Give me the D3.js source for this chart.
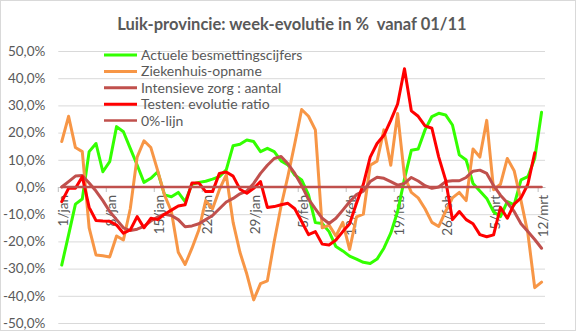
<!DOCTYPE html>
<html>
<head>
<meta charset="utf-8">
<script src="https://cdn.jsdelivr.net/npm/d3@7"></script>
<style>
  html, body { margin: 0; padding: 0; background: #fff; }
  svg text { font-family: Lato, "Open Sans", sans-serif; fill: #595959; }
</style>
</head>
<body>
<svg id="chart" width="584" height="332"></svg>
<script>
// Daily categories from 1 January to 12 March
const dates = [
  "1/jan","2/jan","3/jan","4/jan","5/jan","6/jan","7/jan","8/jan","9/jan","10/jan",
  "11/jan","12/jan","13/jan","14/jan","15/jan","16/jan","17/jan","18/jan","19/jan","20/jan",
  "21/jan","22/jan","23/jan","24/jan","25/jan","26/jan","27/jan","28/jan","29/jan","30/jan","31/jan",
  "1/feb","2/feb","3/feb","4/feb","5/feb","6/feb","7/feb","8/feb","9/feb","10/feb",
  "11/feb","12/feb","13/feb","14/feb","15/feb","16/feb","17/feb","18/feb","19/feb","20/feb",
  "21/feb","22/feb","23/feb","24/feb","25/feb","26/feb","27/feb","28/feb",
  "1/mrt","2/mrt","3/mrt","4/mrt","5/mrt","6/mrt","7/mrt","8/mrt","9/mrt","10/mrt","11/mrt","12/mrt"
];

// Axis labels shown every seven days
const tickLabels = ["1/jan","8/jan","15/jan","22/jan","29/jan","5/feb","12/feb","19/feb","26/feb","5/mrt","12/mrt"];
const yTicks = [50, 40, 30, 20, 10, 0, -10, -20, -30, -40, -50];

const seriesNames = [
  "Actuele besmettingscijfers",
  "Ziekenhuis-opname",
  "Intensieve zorg : aantal",
  "Testen: evolutie ratio",
  "0%-lijn"
];

// Week-on-week evolution in %
const besmettingen = [
  -28.7, -17.6, -6.3, -4.4, 13.0, 16.0, 5.6, 9.3, 22.2, 20.3,
  14.2, 8.1, 1.7, 3.2, 5.6, -2.9, -3.6, -2.0, -5.4, 1.0,
  1.7, 2.1, 2.9, 3.8, 6.3, 15.2, 15.7, 17.3, 16.7, 13.0,
  14.2, 13.0, 9.6, 8.1, 4.4, 2.6, -2.9, -13.1, -13.4, -16.4,
  -21.9, -23.5, -25.4, -26.5, -27.7, -28.1, -26.5, -22.5, -17.0, -9.0,
  3.0, 13.5, 14.0, 21.0, 25.9, 27.1, 26.5, 22.8, 11.8, 9.9,
  1.3, -1.5, -4.2, -9.1, -10.9, -5.4, -6.6, 2.6, 3.8, 10.5,
  27.5
];

const ziekenhuis = [
  16.7, 26.0, 14.5, 13.0, -15.0, -25.0, -25.3, -25.7, -18.0, -19.5,
  -8.0, 11.0, 17.0, 14.5, 6.0, -3.0, -9.0, -24.0, -28.5, -22.5,
  -15.8, -5.0, -8.0, -1.0, 4.5, -13.0, -24.0, -32.0, -41.5, -35.5,
  -34.5, -20.0, -7.0, 4.0, 16.0, 28.5, 26.0, 21.0, -15.0, -14.0,
  -18.0, -13.0, -23.0, -11.0, -10.0, 8.0, 9.5, 21.0, 8.0, 27.0,
  4.0, -2.0, -4.0, -8.0, -13.0, -14.5, -9.0, -4.0, -2.0, -5.0,
  14.0, 11.0, 24.5, -1.0, 1.0, 10.5, 6.0, -5.0, -17.0, -37.0,
  -35.0
];

const intensieveZorg = [
  0.0, 2.0, 4.0, 4.2, 1.5, -1.5, -5.0, -9.0, -12.0, -15.0,
  -16.0, -15.5, -14.5, -12.5, -11.0, -10.0, -10.5, -12.0, -14.6, -14.3,
  -13.5, -12.0, -10.5, -8.0, -5.5, -4.2, -2.5, -1.5, 1.3, 5.0,
  8.0, 10.5, 11.2, 8.5, 5.0, 0.5, -4.5, -8.0, -11.5, -13.4,
  -11.5, -8.5, -5.4, -2.8, -1.5, 2.0, 3.6, 3.2, 2.0, 0.7,
  1.3, 3.5, 2.2, 0.5, -0.5, 0.0, 2.0, 2.3, 2.3, 3.5,
  5.8, 6.2, 5.0, 0.5, -3.0, -5.8, -9.0, -13.5, -16.4, -19.3,
  -22.5
];

const testen = [
  -5.4, -0.5, -0.5, 3.8, -7.5, -12.3, -12.5, -12.6, -14.0, -17.0,
  -15.8, -10.9, -15.0, -11.5, -12.0, -10.0, -8.5, -7.0, -6.5, 1.5,
  1.5, -1.7, -1.7, 5.0, 5.5, 4.0, -0.8, -2.3, -0.5, 2.0,
  -7.5, -7.2, -6.5, -6.0, -8.0, -12.7, -17.5, -16.4, -21.0, -21.3,
  -19.5, -16.4, -13.5, -6.0, 1.0, 11.0, 16.0, 19.0, 24.5, 30.5,
  43.5, 28.0, 26.0, 22.5, 21.6, 11.0, 2.6, -12.0, -9.0, -12.0,
  -13.5, -17.5, -18.3, -17.6, -7.5, -11.5, -6.3, -4.0, 1.0, 12.6
];

const nulLijn = dates.map(() => 0);

const seriesColors = ["#33ff00", "#f79646", "#c0504d", "#ff0000", "#c0504d"];
const seriesWidths = [3, 3, 3, 3, 2.5];
const seriesValues = [besmettingen, ziekenhuis, intensieveZorg, testen, nulLijn];

const svg = d3.select("#chart");
const plot = { left: 58.3, right: 545, top: 51, bottom: 323 };

// Chart area border
svg.append("rect")
  .attr("x", 0.5).attr("y", 0.5)
  .attr("width", 575).attr("height", 330)
  .attr("fill", "#fff").attr("stroke", "#d9d9d9");

const x = d3.scaleBand().domain(dates).range([plot.left, plot.right]).padding(0);
const cx = d => x(d) + x.bandwidth() / 2;
const y = d3.scaleLinear().domain([-50, 50]).range([plot.bottom, plot.top]);

const pct = d3.formatLocale({ decimal: ",", thousands: ".", grouping: [3], currency: ["€", ""], minus: "-" })
  .format(".1f");

// Horizontal gridlines
const grid = svg.append("g")
  .attr("transform", `translate(${plot.left},0)`)
  .call(d3.axisLeft(y).tickValues(yTicks).tickSize(-(plot.right - plot.left)).tickFormat(""));
grid.select(".domain").remove();
grid.selectAll("line").attr("stroke", "#d9d9d9").attr("stroke-width", 1);

// Value axis labels
const yAxis = svg.append("g")
  .attr("transform", `translate(${plot.left},0)`)
  .call(d3.axisLeft(y).tickValues(yTicks).tickSize(0).tickPadding(13).tickFormat(d => pct(d) + "%"));
yAxis.select(".domain").remove();
yAxis.selectAll("text").style("font-size", "13.5px").attr("font-family", null);

// Category axis crossing at 0
const xAxis = svg.append("g")
  .attr("transform", `translate(0,${y(0)})`)
  .call(d3.axisBottom(x).tickValues(tickLabels).tickSize(0).tickFormat(d => d));
xAxis.select(".domain").attr("stroke", "#bfbfbf");
xAxis.selectAll(".tick text")
  .style("font-size", "13.5px")
  .attr("text-anchor", "end")
  .attr("transform", "rotate(-90)")
  .attr("x", -8)
  .attr("y", 1.5)
  .attr("dy", "0.35em");
// tick marks sit on the boundaries between categories
xAxis.selectAll(".tick").each(function(d) {
  d3.select(this).append("line")
    .attr("x1", -x.bandwidth() / 2).attr("x2", -x.bandwidth() / 2)
    .attr("y1", 0).attr("y2", 5)
    .attr("stroke", "#bfbfbf");
});

// Series lines
const line = d3.line()
  .x((d, i) => cx(dates[i]))
  .y(d => y(d));

svg.append("g")
  .selectAll("path")
  .data(seriesValues)
  .join("path")
  .attr("d", d => line(d))
  .attr("fill", "none")
  .attr("stroke", (d, i) => seriesColors[i])
  .attr("stroke-width", (d, i) => seriesWidths[i])
  .attr("stroke-linejoin", "round")
  .attr("stroke-linecap", "round");

// Legend
const legend = svg.append("g")
  .selectAll("g")
  .data(seriesNames)
  .join("g")
  .attr("transform", (d, i) => `translate(104,${55 + i * 16.4})`);
legend.append("line")
  .attr("x1", 0).attr("x2", 33)
  .attr("stroke", (d, i) => seriesColors[i])
  .attr("stroke-width", (d, i) => seriesWidths[i]);
legend.append("text")
  .attr("x", 37)
  .attr("dy", "0.35em")
  .style("font-size", "14px")
  .text(d => d);

// Title
svg.append("text")
  .attr("x", 292)
  .attr("y", 30)
  .attr("text-anchor", "middle")
  .style("font-size", "16.5px")
  .style("font-weight", "bold")
  .style("white-space", "pre")
  .text("Luik-provincie: week-evolutie in %  vanaf 01/11");
</script>
</body>
</html>
